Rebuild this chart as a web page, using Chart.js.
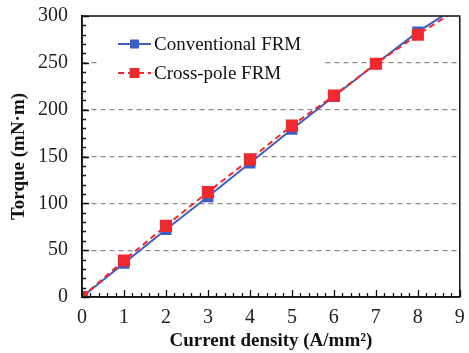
<!DOCTYPE html>
<html>
<head>
<meta charset="utf-8">
<script src="https://cdn.jsdelivr.net/npm/chart.js@4.4.1/dist/chart.umd.min.js"></script>
<style>
  html, body { margin: 0; padding: 0; background: #fff; }
  #wrap { width: 469px; height: 353px; }
</style>
</head>
<body>
<div id="wrap"><canvas id="chart"></canvas></div>
<script>
// 데이터 - 마지막 값(9)은 추세선 끝, 마커 없음
const density = [0, 1, 2, 3, 4, 5, 6, 7, 8, 9];
const conventional = [0, 36, 72, 107, 143, 179, 214, 249, 283, 312];
const crossPole = [0, 39, 76, 112, 147, 183, 215, 249, 280, 309];
const markerCount = 9;
const seriesNames = ['Conventional FRM', 'Cross-pole FRM'];
const yTicks = [0, 50, 100, 150, 200, 250, 300];

const BLUE = '#3f5ec4';
const RED = '#ee2a2f';
const SERIF = '"Liberation Serif", "Times New Roman", serif';

const pts = arr => arr.map((v, i) => ({ x: density[i], y: v }));
const rad = r => ctx => ctx.dataIndex < markerCount ? r : 0;

// 안쪽 눈금 + 테두리 + 범례
const extras = {
  id: 'extras',
  afterDraw(chart) {
    const { ctx, chartArea: a, scales: { x, y } } = chart;
    ctx.save();
    ctx.strokeStyle = '#111';
    ctx.lineWidth = 1.3;
    ctx.beginPath();
    for (let v = 0; v <= 300; v += 10) {
      const py = Math.round(y.getPixelForValue(v)) + 0.5;
      const len = v % 50 === 0 ? 7 : 4;
      ctx.moveTo(a.left, py); ctx.lineTo(a.left + len, py);
    }
    for (let k = 0; k <= 45; k++) {
      const px = Math.round(x.getPixelForValue(k / 5)) + 0.5;
      const len = k % 5 === 0 ? 7 : 4;
      ctx.moveTo(px, a.bottom); ctx.lineTo(px, a.bottom - len);
    }
    ctx.stroke();
    ctx.lineWidth = 1.5;
    ctx.strokeRect(a.left, a.top, a.right - a.left, a.bottom - a.top);

    // 범례
    ctx.fillStyle = '#fff';
    ctx.fillRect(97, 26, 226, 64);
    const rows = [
      { c: BLUE, dash: [], y: 44, s: 9 },
      { c: RED, dash: [6, 4], y: 73, s: 10 }
    ];
    rows.forEach((r, i) => {
      ctx.strokeStyle = r.c;
      ctx.lineWidth = 2;
      ctx.setLineDash(r.dash);
      ctx.beginPath(); ctx.moveTo(118, r.y); ctx.lineTo(151, r.y); ctx.stroke();
      ctx.setLineDash([]);
      ctx.fillStyle = r.c;
      ctx.fillRect(134.5 - r.s / 2, r.y - r.s / 2, r.s, r.s);
      ctx.fillStyle = '#111';
      ctx.font = '19px ' + SERIF;
      ctx.textBaseline = 'middle';
      ctx.fillText(seriesNames[i], 154, r.y + 1);
    });
    ctx.restore();
  }
};

const noPad = s => { s.paddingTop = 0; s.paddingBottom = 0; s.paddingLeft = 0; s.paddingRight = 0; };

new Chart(document.getElementById('chart'), {
  type: 'line',
  data: {
    datasets: [
      { label: seriesNames[0], data: pts(conventional), borderColor: BLUE, backgroundColor: BLUE,
        borderWidth: 2, pointStyle: 'rect', pointRadius: rad(6.4), pointHoverRadius: rad(6.4), order: 2 },
      { label: seriesNames[1], data: pts(crossPole), borderColor: RED, backgroundColor: RED,
        borderWidth: 2, borderDash: [6, 4], pointStyle: 'rect', pointRadius: rad(7.2), pointHoverRadius: rad(7.2), order: 1 }
    ]
  },
  options: {
    responsive: true,
    maintainAspectRatio: false,
    animation: false,
    layout: { padding: { top: 16, right: 5, left: 0, bottom: 0 } },
    plugins: { legend: { display: false }, tooltip: { enabled: false } },
    scales: {
      x: {
        type: 'linear', min: 0, max: 9,
        afterFit: s => { s.height = 56; noPad(s); },
        ticks: { stepSize: 1, padding: 9, color: '#222', font: { family: SERIF, size: 20 } },
        grid: { display: false, drawTicks: false },
        border: { display: true, color: '#111', width: 1.5 },
        title: { display: true, text: 'Current density (A/mm²)', color: '#111',
                 font: { family: SERIF, size: 19, weight: 'bold' }, padding: { top: 0, bottom: 1 } }
      },
      y: {
        min: 0, max: 300,
        afterFit: s => { s.width = 82; noPad(s); },
        afterBuildTicks: s => { s.ticks = yTicks.map(v => ({ value: v })); },
        ticks: { padding: 14, color: '#222', font: { family: SERIF, size: 20 } },
        grid: {
          drawTicks: false,
          color: c => (c.tick && c.tick.value > 0 && c.tick.value < 300) ? '#8a8a8a' : 'rgba(0,0,0,0)',
          lineWidth: 1.2
        },
        border: { display: true, color: '#111', width: 1.5, dash: [5, 4] },
        title: { display: true, text: 'Torque (mN·m)', color: '#111',
                 font: { family: SERIF, size: 19, weight: 'bold' }, padding: { top: 8, bottom: 0 } }
      }
    }
  },
  plugins: [extras]
});
</script>
</body>
</html>
